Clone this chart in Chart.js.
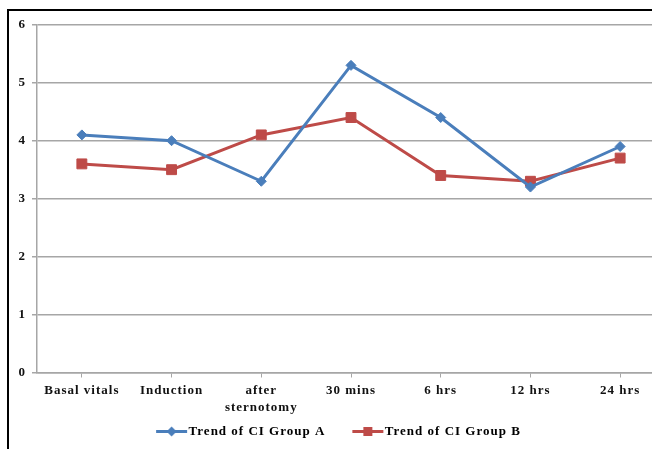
<!DOCTYPE html>
<html>
<head>
<meta charset="utf-8">
<script src="https://cdn.jsdelivr.net/npm/chart.js@4/dist/chart.umd.min.js"></script>
<style>
  html, body { margin: 0; padding: 0; background: #fff; overflow: hidden; width: 652px; height: 449px; }
  #frame { position: absolute; left: 7px; top: 9px; width: 660px; height: 438px; border: 2px solid #000; }
  canvas { display: block; }
</style>
</head>
<body>
<div id="frame"><canvas id="chart" width="660" height="437"></canvas></div>
<script>
"use strict";

const categories = ["Basal vitals", "Induction", ["after", "sternotomy"], "30 mins", "6 hrs", "12 hrs", "24 hrs"];
const groupA = [4.1, 4.0, 3.3, 5.3, 4.4, 3.2, 3.9];
const groupB = [3.6, 3.5, 4.1, 4.4, 3.4, 3.3, 3.7];
const yTicks = [0, 1, 2, 3, 4, 5, 6];

const blue = "#4a7ebb";
const red = "#be4b48";
const grid = "#a6a6a6";
const family = "'Liberation Serif', 'Times New Roman', serif";
const xFont = { family, size: 13, weight: "bold", lineHeight: 1.35 };
const yFont = { family, size: 13, weight: "bold", lineHeight: 1.2 };

// legend swatch: short line with the marker in the middle, sitting close to the text
function swatch(color, shape) {
  const c = document.createElement("canvas");
  c.width = 80;
  c.height = 13;
  const ctx = c.getContext("2d");
  ctx.fillStyle = color;
  ctx.fillRect(37, 5, 31, 3);
  ctx.beginPath();
  if (shape === "diamond") {
    ctx.moveTo(52.5, 1.5);
    ctx.lineTo(57.5, 6.5);
    ctx.lineTo(52.5, 11.5);
    ctx.lineTo(47.5, 6.5);
  } else {
    ctx.rect(48, 2, 9, 9);
  }
  ctx.fill();
  return c;
}

// the picture's text is set loosely
const spacing = {
  id: "spacing",
  beforeUpdate: (chart) => { chart.ctx.letterSpacing = "1px"; },
  beforeDraw: (chart) => { chart.ctx.letterSpacing = "1px"; },
};

new Chart(document.getElementById("chart"), {
  type: "line",
  plugins: [spacing],
  data: {
    labels: categories,
    datasets: [
      {
        label: "Trend of CI Group A",
        data: groupA,
        borderColor: blue,
        backgroundColor: blue,
        borderWidth: 3,
        pointStyle: "rectRot",
        pointRadius: 5,
        pointBorderWidth: 1,
        tension: 0,
      },
      {
        label: "Trend of CI Group B",
        data: groupB,
        borderColor: red,
        backgroundColor: red,
        borderWidth: 3,
        pointStyle: "rect",
        pointRadius: 7,
        pointBorderWidth: 1,
        tension: 0,
      },
    ],
  },
  options: {
    responsive: false,
    devicePixelRatio: 1,
    animation: false,
    // negative left padding only shifts the centred legend; the y axis width makes up for it
    layout: { autoPadding: false, padding: { top: 12, right: 4, left: -17, bottom: 0 } },
    scales: {
      x: {
        offset: true,
        grid: { drawOnChartArea: false, drawTicks: true, tickLength: 5, color: grid, lineWidth: 1 },
        border: { color: grid, width: 1.5 },
        ticks: { color: "#111", font: xFont, padding: 4, maxRotation: 0, autoSkip: false },
        afterFit: (scale) => { scale.height = 45.5; },
      },
      y: {
        min: 0,
        max: 6,
        afterBuildTicks: (scale) => { scale.ticks = yTicks.map((v) => ({ value: v })); },
        grid: { color: grid, lineWidth: 1.5, tickLength: 5 },
        border: { color: grid, width: 1.5 },
        ticks: { color: "#111", font: yFont, padding: 6 },
        afterFit: (scale) => { scale.width = 45; },
      },
    },
    plugins: {
      tooltip: { enabled: false },
      legend: {
        position: "bottom",
        labels: {
          color: "#111",
          font: xFont,
          usePointStyle: true,
          pointStyleWidth: 46,
          padding: 7,
          generateLabels: (chart) =>
            chart.data.datasets.map((ds, i) => ({
              text: ds.label,
              pointStyle: swatch(ds.borderColor, i === 0 ? "diamond" : "square"),
              fillStyle: ds.borderColor,
              strokeStyle: ds.borderColor,
              lineWidth: 0,
              datasetIndex: i,
            })),
        },
      },
    },
  },
});
</script>
</body>
</html>
